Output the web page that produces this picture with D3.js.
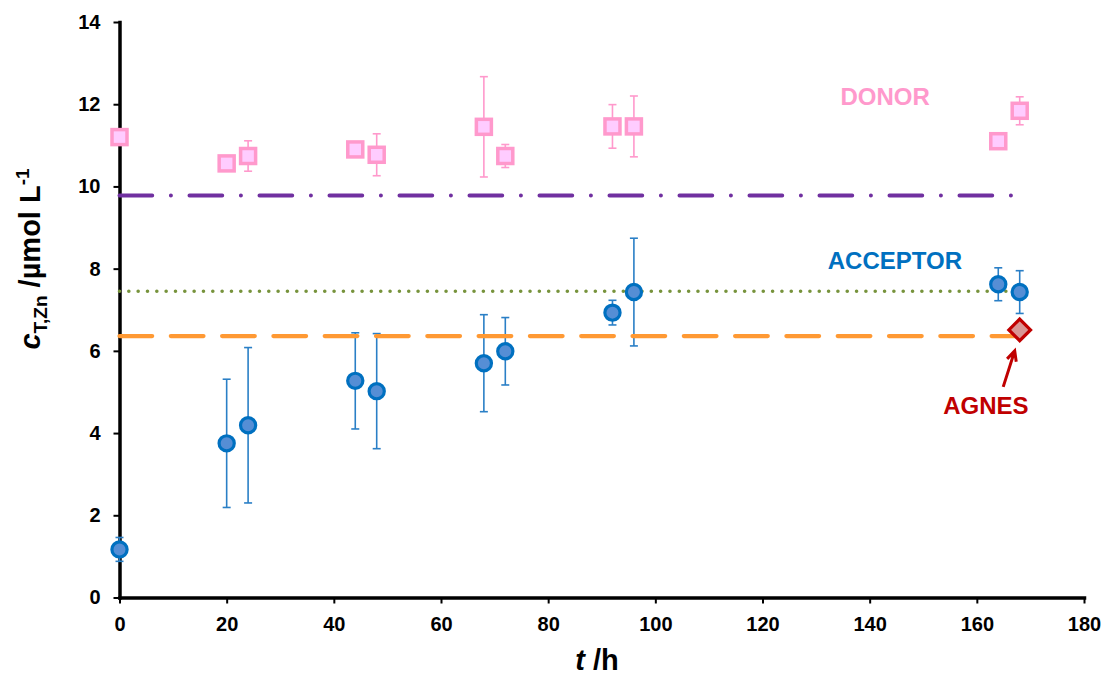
<!DOCTYPE html>
<html>
<head>
<meta charset="utf-8">
<script src="https://cdn.jsdelivr.net/npm/d3@7"></script>
<style>
  body { margin: 0; background: #fff; }
  svg { display: block; font-family: "Liberation Sans", Arial, sans-serif; }
</style>
</head>
<body>
<div id="chart"></div>
<script>
// Sampling times (h)
const times = [0, 20, 24, 44, 48, 68, 72, 92, 96, 164, 168];
// Donor compartment, mean and std (µmol/L)
const donor = [11.20, 10.56, 10.74, 10.90, 10.77, 11.45, 10.74, 11.46, 11.46, 11.10, 11.84];
const donorErr = [0, 0, 0.37, 0, 0.51, 1.22, 0.28, 0.53, 0.74, 0, 0.34];
// Acceptor compartment
const acceptor = [1.17, 3.75, 4.19, 5.27, 5.02, 5.70, 5.99, 6.93, 7.43, 7.62, 7.43];
const acceptorErr = [0.29, 1.56, 1.89, 1.17, 1.40, 1.18, 0.82, 0.30, 1.31, 0.40, 0.52];
// AGNES measurement
const agnesT = 168;
const agnesValue = 6.51;
// Horizontal reference levels [value, end time]
const donorLevel = [9.78, 166.6];
const acceptorLevel = [7.45, 168];
const agnesLevel = [6.36, 168];

const xTicks = [0, 20, 40, 60, 80, 100, 120, 140, 160, 180];
const yTicks = [0, 2, 4, 6, 8, 10, 12, 14];

const svgWidth = 1104;
const svgHeight = 677;
const margin = { top: 22, right: 20, bottom: 79.5, left: 119.5 };
const width = 1084 - margin.left;
const height = svgHeight - margin.top - margin.bottom;

const svg = d3.select("#chart").append("svg")
    .attr("width", svgWidth).attr("height", svgHeight);

const x = d3.scaleLinear().domain([0, 180]).range([0, width]);
const y = d3.scaleLinear().domain([0, 14]).range([height, 0]);

const g = svg.append("g").attr("transform", `translate(${margin.left},${margin.top})`);

// Axes
const yAxis = g.append("g")
    .call(d3.axisLeft(y).tickValues(yTicks).tickSize(6).tickSizeOuter(0).tickPadding(13).tickFormat(d3.format("d")));
const xAxis = g.append("g").attr("transform", `translate(0,${height})`)
    .call(d3.axisBottom(x).tickValues(xTicks).tickSize(6).tickSizeOuter(0).tickPadding(13).tickFormat(d3.format("d")));

[xAxis, yAxis].forEach(a => {
    a.select(".domain").attr("stroke", "#000").attr("stroke-width", 3.5).attr("stroke-linecap", "square");
    a.selectAll(".tick line").attr("stroke", "#000").attr("stroke-width", 2);
    a.selectAll(".tick text").attr("fill", "#000")
        .style("font-size", "20px").style("font-weight", "bold")
        .style("font-family", "'Liberation Sans', Arial, sans-serif");
});

// Error bars
function errorBars(vals, errs, color) {
    const rows = times.map((t, i) => ({ t, v: vals[i], e: errs[i] })).filter(d => d.e > 0);
    const eg = g.append("g").attr("stroke", color).attr("stroke-width", 1.6).attr("fill", "none");
    eg.selectAll("line.v").data(rows).enter().append("line")
        .attr("x1", d => x(d.t)).attr("x2", d => x(d.t))
        .attr("y1", d => y(d.v + d.e)).attr("y2", d => y(d.v - d.e));
    eg.selectAll("line.top").data(rows).enter().append("line")
        .attr("x1", d => x(d.t) - 4).attr("x2", d => x(d.t) + 4)
        .attr("y1", d => y(d.v + d.e)).attr("y2", d => y(d.v + d.e));
    eg.selectAll("line.bot").data(rows).enter().append("line")
        .attr("x1", d => x(d.t) - 4).attr("x2", d => x(d.t) + 4)
        .attr("y1", d => y(d.v - d.e)).attr("y2", d => y(d.v - d.e));
}
errorBars(donor, donorErr, "#ff99cc");
errorBars(acceptor, acceptorErr, "#2a7fc6");

// Reference lines
function hline(level, color, dash) {
    g.append("line")
        .attr("x1", x(0)).attr("x2", x(level[1]))
        .attr("y1", y(level[0])).attr("y2", y(level[0]))
        .attr("stroke", color).attr("stroke-width", dash.w)
        .attr("stroke-linecap", "round")
        .attr("stroke-dasharray", dash.a);
}
hline(donorLevel, "#7030a0", { w: 4, a: "32.7,18.7,0,18.6" });
hline(acceptorLevel, "#77933c", { w: 3.6, a: "0,9.33" });
hline(agnesLevel, "#ff9933", { w: 4.2, a: "32.7,18.6" });

// Donor squares
g.selectAll("rect.donor").data(times).enter().append("rect")
    .attr("class", "donor")
    .attr("x", (d, i) => x(d) - 7.5).attr("y", (d, i) => y(donor[i]) - 7.5)
    .attr("width", 15).attr("height", 15)
    .attr("fill", "#ffccff").attr("stroke", "#ff99cc").attr("stroke-width", 3.5);

// Acceptor circles
g.selectAll("circle.acc").data(times).enter().append("circle")
    .attr("class", "acc")
    .attr("cx", d => x(d)).attr("cy", (d, i) => y(acceptor[i]))
    .attr("r", 7.6)
    .attr("fill", "#558ed5").attr("stroke", "#0070c0").attr("stroke-width", 3.2);

// AGNES diamond
g.append("path")
    .attr("d", d3.symbol(d3.symbolDiamond2, 300)())
    .attr("transform", `translate(${x(agnesT)},${y(agnesValue)})`)
    .attr("fill", "#d99694").attr("stroke", "#c00000").attr("stroke-width", 3.2)
    .attr("stroke-linejoin", "miter");

// Arrow pointing to AGNES
const tip = [x(agnesT) - 5, y(agnesValue) + 21];
const tail = [x(agnesT) - 16.5, y(agnesValue) + 57];
const ang = Math.atan2(tip[1] - tail[1], tip[0] - tail[0]);
const head = 11;
const left = [tip[0] - head * Math.cos(ang - 0.45), tip[1] - head * Math.sin(ang - 0.45)];
const right = [tip[0] - head * Math.cos(ang + 0.45), tip[1] - head * Math.sin(ang + 0.45)];
g.append("path")
    .attr("d", `M${tail}L${tip}M${left}L${tip}L${right}`)
    .attr("fill", "none").attr("stroke", "#c00000").attr("stroke-width", 3)
    .attr("stroke-linejoin", "miter");

// Series labels
const labels = [
    { text: "DONOR", t: 142.9, v: 11.98, color: "#ff99cc" },
    { text: "ACCEPTOR", t: 144.7, v: 7.99, color: "#0070c0" },
    { text: "AGNES", t: 161.7, v: 4.46, color: "#c00000" }
];
g.selectAll("text.lab").data(labels).enter().append("text")
    .attr("class", "lab")
    .attr("x", d => x(d.t)).attr("y", d => y(d.v))
    .attr("text-anchor", "middle")
    .attr("fill", d => d.color)
    .style("font-size", "24px").style("font-weight", "bold")
    .text(d => d.text);

// Axis titles
const xt = svg.append("text")
    .attr("x", 597).attr("y", 670)
    .attr("text-anchor", "middle")
    .style("font-size", "29px").style("font-weight", "bold");
xt.append("tspan").style("font-style", "italic").text("t");
xt.append("tspan").text(" /h");

const yt = svg.append("text")
    .attr("transform", "translate(40,259) rotate(-90)")
    .attr("text-anchor", "middle")
    .style("font-size", "29px").style("font-weight", "bold");
yt.append("tspan").style("font-style", "italic").text("c");
yt.append("tspan").attr("dy", 7).style("font-size", "19px").text("T,Zn");
yt.append("tspan").attr("dy", -7).text(" /µmol L");
yt.append("tspan").attr("dy", -11).style("font-size", "19px").text("-1");
</script>
</body>
</html>
